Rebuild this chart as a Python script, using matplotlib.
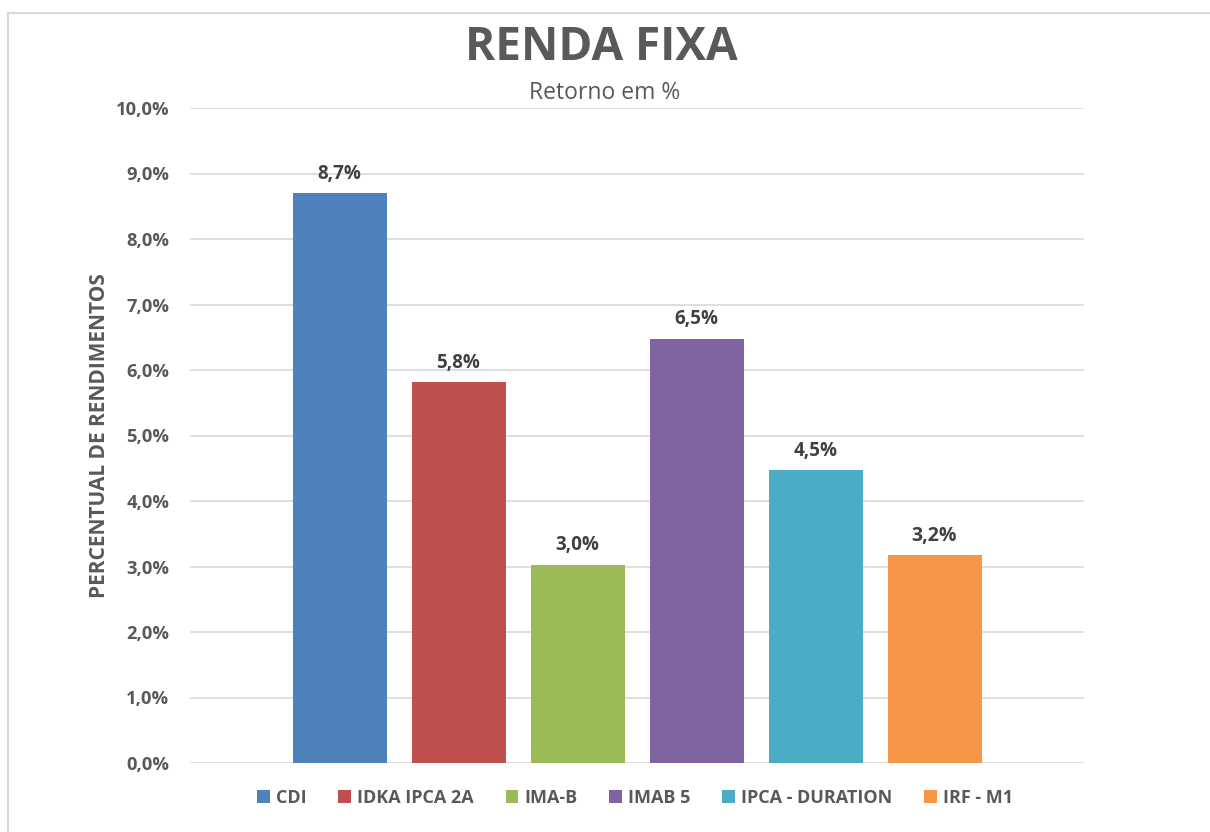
import matplotlib
matplotlib.use("Agg")
import matplotlib.pyplot as plt
from matplotlib.patches import Patch
from matplotlib.lines import Line2D
from matplotlib.ticker import FuncFormatter

series = ["CDI", "IDKA IPCA 2A", "IMA-B", "IMAB 5", "IPCA - DURATION", "IRF - M1"]
values = [8.70, 5.82, 3.03, 6.48, 4.47, 3.18]
labels = ["8,7%", "5,8%", "3,0%", "6,5%", "4,5%", "3,2%"]
colors = ["#4F81BD", "#C0504D", "#9BBB59", "#8064A2", "#4BACC6", "#F79646"]
yticks = [0, 1, 2, 3, 4, 5, 6, 7, 8, 9, 10]

plt.rcParams['font.family'] = ['Open Sans', 'DejaVu Sans']
GRAY = "#595959"

fig = plt.figure(figsize=(12.1, 8.32), dpi=100)
ax = fig.add_axes([190/1210, 1-763/832, (1084-190)/1210, (763-108)/832])

x = list(range(len(series)))
width = 94/119
for i in x:
    ax.bar(i, values[i], width=width, color=colors[i], zorder=3)
    ax.text(i, values[i] + 0.14, labels[i], ha="center", va="bottom",
            fontsize=14 if i == 5 else 13.5, fontweight="bold", color="#404040", zorder=4)

half = (1084-190)/119/2
ax.set_xlim(2.5 - half, 2.5 + half)
ax.set_ylim(0, 10)
ax.set_yticks(yticks)
ax.yaxis.set_major_formatter(FuncFormatter(lambda v, p: f"{v:.1f}".replace(".", ",") + "%"))
ax.set_xticks([])
ax.grid(axis="y", color="#D9D9D9", linewidth=1.2, zorder=0)
for s in ax.spines.values():
    s.set_visible(False)
ax.tick_params(axis="y", length=0, pad=15, labelsize=13.2, labelcolor=GRAY)
for t in ax.get_yticklabels():
    t.set_fontweight("bold")

ax.set_ylabel("PERCENTUAL DE RENDIMENTOS", fontsize=15, fontweight="bold", color=GRAY, labelpad=4)

fig.text(0.497, 1-47/832, "RENDA FIXA", ha="center", va="center", fontsize=33,
         fontweight="bold", color=GRAY)
fig.text(0.5, 1-93/832, "Retorno em %", ha="center", va="center", fontsize=16.5, color=GRAY)

handles = [Patch(facecolor=c, edgecolor="none") for c in colors]
leg = fig.legend(handles, series, loc="center", bbox_to_anchor=(0.525, 1-798/832), ncol=6,
                 frameon=False, handlelength=0.7, handleheight=0.7, handletextpad=0.35,
                 columnspacing=1.75, prop={"size": 13, "weight": "bold"})
for t in leg.get_texts():
    t.set_color(GRAY)

# outer border
fig.add_artist(Line2D([8/1210, 8/1210], [0, 1-13/832], color="#D9D9D9", lw=1.5, transform=fig.transFigure))
fig.add_artist(Line2D([8/1210, 1], [1-13/832, 1-13/832], color="#D9D9D9", lw=1.5, transform=fig.transFigure))

fig.savefig("out.png", dpi=100)
